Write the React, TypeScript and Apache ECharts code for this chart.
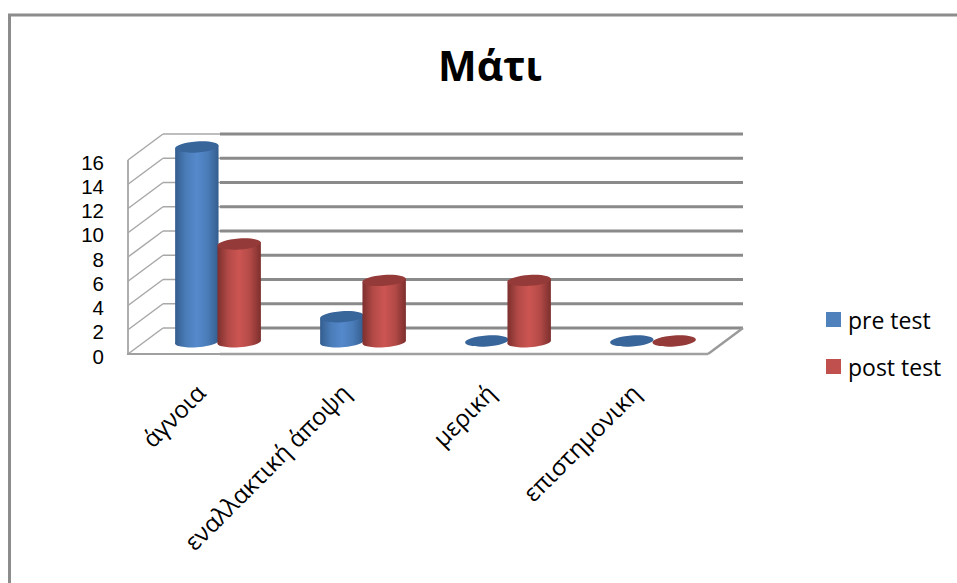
import React, { useEffect, useRef } from "react";
import * as echarts from "echarts";

const chartTitle = "Μάτι";
const categories = ["άγνοια", "εναλλακτική άποψη", "μερική", "επιστημονικη"];
const preTest = [16, 2, 0, 0];
const postTest = [8, 5, 5, 0];
const wallTicks = [0, 2, 4, 6, 8, 10, 12, 14, 16];

const FONT = "'Open Sans', 'Noto Sans', sans-serif";
const DEPTH_X = 35;
const DEPTH_Y = 26;
const TILT = -4;

const BLUE = { side: ["#345d8e", "#4a7cb8", "#5489cc", "#4a7cb8", "#345d8e"], top: "#38659a", key: "#4f81bd" };
const RED = { side: ["#7c2f2d", "#b34a47", "#cc5552", "#b34a47", "#7c2f2d"], top: "#943a38", key: "#c0504d" };

// Floor, side wall and back-wall gridlines, offset from the front plane by the chart's depth.
function renderWall(params: any, api: any) {
  const v = api.value(0);
  const sys = params.coordSys;
  const y = api.coord([0, v])[1];
  const left = sys.x;
  const right = sys.x + sys.width;
  const bx = left + DEPTH_X;
  const by = y - DEPTH_Y;
  const seam = 220;
  const thin = { stroke: "#a8a8a8", lineWidth: 1.5 };
  const thick = { stroke: "#8a8a8a", lineWidth: 2.8 };
  const line = (x1: number, y1: number, x2: number, y2: number, style: any) => ({
    type: "line",
    shape: { x1, y1, x2, y2 },
    style,
  });
  const children: any[] = [
    line(left, y, bx, by, thin),
    line(bx, by, seam, by, thin),
    line(seam, by, right + DEPTH_X, by, thick),
  ];
  if (v === 0) {
    children.push(
      line(left, sys.y, left, y, { stroke: "#9a9a9a", lineWidth: 1.6 }),
      line(left - 1, y, seam, y, { stroke: "#a0a0a0", lineWidth: 1.8 }),
      line(seam, y, right, y, { stroke: "#a0a0a0", lineWidth: 2.6 }),
      line(right, y, right + DEPTH_X, by, { stroke: "#9a9a9a", lineWidth: 2.4 })
    );
  }
  return { type: "group", children };
}

// One cylinder, standing mid-way through the chart's depth.
function cylinderRenderer(palette: typeof BLUE, side: number) {
  return (_params: any, api: any) => {
    const idx = api.value(0);
    const val = api.value(1);
    const band = api.size([1, 0])[0];
    const rx = band * 0.15;
    const ry = 5.5;
    const base = api.coord([idx, 0]);
    const cx = base[0] + DEPTH_X / 2 + side * band * 0.146;
    const yBase = base[1] - DEPTH_Y / 2;
    const yTop = api.coord([idx, val])[1] - DEPTH_Y / 2;
    const rad = (TILT * Math.PI) / 180;
    const dx = rx * Math.cos(rad);
    const dy = rx * Math.sin(rad);
    const cap = {
      type: "ellipse",
      x: cx,
      y: yTop,
      rotation: -rad,
      shape: { cx: 0, cy: 0, rx, ry },
      style: { fill: palette.top },
    };
    if (val === 0) return { type: "group", children: [cap] };
    const n = palette.side.length - 1;
    const body =
      `M${cx - dx} ${yTop - dy}L${cx - dx} ${yBase - dy}` +
      `A${rx} ${ry} ${TILT} 0 0 ${cx + dx} ${yBase + dy}` +
      `L${cx + dx} ${yTop + dy}Z`;
    return {
      type: "group",
      children: [
        {
          type: "path",
          shape: { pathData: body },
          style: {
            fill: {
              type: "linear",
              x: 0,
              y: 0,
              x2: 1,
              y2: 0,
              colorStops: palette.side.map((color, i) => ({ offset: i / n, color })),
            },
          },
        },
        cap,
      ],
    };
  };
}

const pairs = (values: number[]) => values.map((v, i) => [i, v]);

export default function App() {
  const ref = useRef<HTMLDivElement>(null);
  useEffect(() => {
    const chart = echarts.init(ref.current!, undefined, { renderer: "svg" });
    chart.setOption({
      animation: false,
      backgroundColor: "#ffffff",
      textStyle: { fontFamily: FONT },
      title: {
        text: chartTitle,
        left: 485,
        top: 39,
        textAlign: "center",
        textStyle: { fontFamily: FONT, fontSize: 41, fontWeight: "bold", color: "#000000" },
      },
      legend: {
        orient: "vertical",
        left: 821,
        top: 303,
        icon: "rect",
        itemWidth: 15,
        itemHeight: 15,
        itemGap: 24,
        data: ["pre test", "post test"],
        textStyle: { fontFamily: FONT, fontSize: 23, color: "#000000", padding: [0, 0, 0, 2] },
      },
      grid: { left: 128, top: 160, width: 580, height: 194 },
      xAxis: {
        type: "category",
        data: categories,
        axisLine: { show: false },
        axisTick: { show: false },
        axisLabel: { rotate: 45, margin: 34, fontFamily: FONT, fontSize: 24, color: "#000000", interval: 0 },
      },
      yAxis: {
        type: "value",
        min: 0,
        max: 16,
        interval: 2,
        splitLine: { show: false },
        axisLine: { show: false },
        axisTick: { show: false },
        axisLabel: {
          margin: 24,
          fontFamily: "'Liberation Sans', sans-serif",
          fontSize: 20.5,
          verticalAlign: "top",
          lineHeight: 4,
          color: "#000000",
        },
      },
      graphic: [
        {
          type: "polyline",
          silent: true,
          shape: { points: [[9.5, 583], [9.5, 15], [957, 15]] },
          style: { fill: "none", stroke: "#8c8c8c", lineWidth: 3 },
        },
      ],
      series: [
        {
          type: "custom",
          name: "walls",
          silent: true,
          renderItem: renderWall,
          data: wallTicks.map((v) => [v]),
          encode: { y: 0 },
        },
        {
          type: "custom",
          name: "pre test",
          renderItem: cylinderRenderer(BLUE, -1),
          data: pairs(preTest),
          encode: { x: 0, y: 1 },
          itemStyle: { color: BLUE.key },
        },
        {
          type: "custom",
          name: "post test",
          renderItem: cylinderRenderer(RED, 1),
          data: pairs(postTest),
          encode: { x: 0, y: 1 },
          itemStyle: { color: RED.key },
        },
      ],
    });
    return () => chart.dispose();
  }, []);
  return <div ref={ref} style={{ position: "absolute", left: 0, top: 0, width: 957, height: 583 }} />;
}
